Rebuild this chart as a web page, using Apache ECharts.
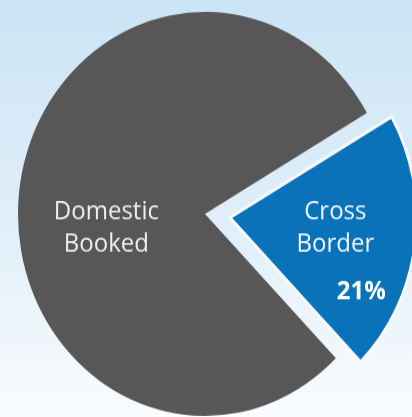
<!DOCTYPE html>
<html>
<head>
    <meta charset="utf-8">
    <title>Booked share</title>
    <script src="https://cdn.jsdelivr.net/npm/echarts@6/dist/echarts.min.js"></script>
    <style type="text/css">
        html, body { margin: 0; padding: 0; width: 412px; height: 417px; overflow: hidden; }
        #wrap {
            width: 412px; height: 417px; overflow: hidden;
            background: linear-gradient(to bottom, #cbe4f5 0%, #e3f0f9 60%, #fafcfe 100%);
        }
        /* the original graphic is a little taller than wide */
        #main { width: 412px; height: 386px; transform: scaleY(1.0803); transform-origin: 0 0; }
    </style>
</head>
<body>
<div id="wrap"><div id="main"></div></div>
<script type="text/javascript">
    // slice data
    var names = ['Cross Border', 'Domestic Booked'];
    var values = [21, 79];
    var sliceColors = ['#0a72b9', '#575757'];

    var chart = echarts.init(document.getElementById('main'));

    chart.setOption({
        series: [{
            name: 'Booked',
            type: 'pie',
            center: [205, 198],
            radius: 187,
            startAngle: 30,
            clockwise: true,
            selectedMode: 'single',
            selectedOffset: 25,
            animation: false,
            labelLine: {show: false},
            // nudge the inside labels to where they sit in the original
            labelLayout: function (p) {
                return p.dataIndex === 0 ? {dx: 10, dy: 26} : {dx: -3, dy: 26};
            },
            data: [
                {
                    value: values[0], name: names[0], selected: true,
                    itemStyle: {color: sliceColors[0], borderColor: '#f4f9fc', borderWidth: 3},
                    label: {
                        show: true,
                        position: 'inside',
                        formatter: function (p) {
                            return '{a|Cross}\n{a|Border}\n{b|' + p.value + '%}';
                        },
                        rich: {
                            a: {color: '#f2f6fa', fontFamily: 'Open Sans', fontSize: 24, lineHeight: 30},
                            b: {color: '#ffffff', fontFamily: 'Open Sans', fontWeight: 'bold', fontSize: 24,
                                lineHeight: 58, padding: [0, 0, 0, 52]}
                        }
                    }
                },
                {
                    value: values[1], name: names[1],
                    itemStyle: {color: sliceColors[1]},
                    label: {
                        show: true,
                        position: 'inside',
                        formatter: 'Domestic\nBooked',
                        color: '#eeeeee',
                        fontFamily: 'Open Sans',
                        fontSize: 24,
                        lineHeight: 30
                    }
                }
            ]
        }]
    });
</script>
</body>
</html>
